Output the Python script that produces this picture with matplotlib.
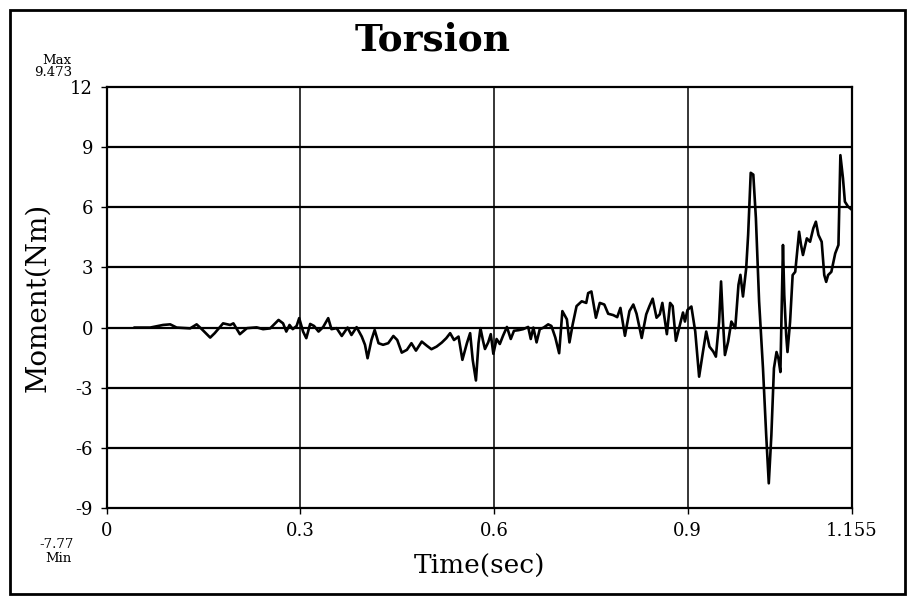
import matplotlib
matplotlib.use("Agg")
import matplotlib.pyplot as plt
from matplotlib.patches import Rectangle

# torque trace
time_s = [0.043, 0.067, 0.087, 0.098, 0.108, 0.129, 0.139, 0.147, 0.160, 0.167,
          0.180, 0.191, 0.196, 0.206, 0.217, 0.232, 0.242, 0.253, 0.266, 0.273,
          0.278, 0.283, 0.288, 0.294, 0.298, 0.304, 0.309, 0.315, 0.321, 0.328,
          0.335, 0.343, 0.348, 0.356, 0.364, 0.373, 0.379, 0.387, 0.395, 0.400,
          0.404, 0.410, 0.415, 0.421, 0.428, 0.436, 0.444, 0.450, 0.457, 0.465,
          0.472, 0.479, 0.488, 0.496, 0.503, 0.511, 0.519, 0.526, 0.532, 0.538,
          0.545, 0.551, 0.558, 0.563, 0.567, 0.572, 0.576, 0.579, 0.583, 0.586,
          0.591, 0.595, 0.599, 0.604, 0.609, 0.614, 0.620, 0.626, 0.631, 0.638,
          0.645, 0.653, 0.657, 0.661, 0.666, 0.671, 0.677, 0.684, 0.689, 0.695,
          0.701, 0.706, 0.713, 0.717, 0.722, 0.728, 0.736, 0.743, 0.746, 0.751,
          0.758, 0.764, 0.771, 0.777, 0.785, 0.791, 0.796, 0.803, 0.810, 0.816,
          0.821, 0.829, 0.836, 0.841, 0.846, 0.852, 0.857, 0.861, 0.868, 0.873,
          0.877, 0.882, 0.888, 0.893, 0.896, 0.900, 0.906, 0.912, 0.918, 0.924,
          0.929, 0.934, 0.940, 0.944, 0.949, 0.952, 0.955, 0.958, 0.963, 0.968,
          0.974, 0.979, 0.982, 0.986, 0.991, 0.994, 0.998, 1.002, 1.006, 1.011,
          1.017, 1.022, 1.026, 1.030, 1.034, 1.038, 1.041, 1.044, 1.048, 1.050,
          1.053, 1.055, 1.059, 1.063, 1.067, 1.070, 1.073, 1.076, 1.079, 1.085,
          1.090, 1.095, 1.099, 1.103, 1.108, 1.112, 1.115, 1.118, 1.123, 1.129,
          1.134, 1.137, 1.141, 1.144, 1.149, 1.155]
moment = [0.0, 0.0, 0.13, 0.16, 0.0, -0.04, 0.16, -0.08, -0.5, -0.28,
          0.21, 0.13, 0.21, -0.33, -0.03, 0.01, -0.08, -0.04, 0.38, 0.21,
          -0.2, 0.13, -0.08, 0.08, 0.47, -0.2, -0.53, 0.18, 0.08, -0.2,
          0.02, 0.47, -0.08, -0.03, -0.42, 0.0, -0.37, 0.02, -0.45, -0.86,
          -1.53, -0.62, -0.12, -0.78, -0.86, -0.78, -0.42, -0.62, -1.25, -1.11,
          -0.78, -1.15, -0.70, -0.91, -1.08, -0.95, -0.75, -0.53, -0.28, -0.62,
          -0.45, -1.61, -0.78, -0.28, -1.61, -2.64, -0.78, -0.03, -0.66, -1.07,
          -0.74, -0.33, -1.31, -0.57, -0.82, -0.41, 0.03, -0.57, -0.16, -0.13,
          -0.08, 0.03, -0.57, 0.0, -0.74, -0.08, 0.0, 0.16, 0.08, -0.49,
          -1.28, 0.82, 0.41, -0.74, 0.16, 1.07, 1.31, 1.23, 1.72, 1.80,
          0.49, 1.23, 1.15, 0.69, 0.62, 0.52, 0.98, -0.41, 0.82, 1.15,
          0.69, -0.52, 0.66, 1.07, 1.44, 0.49, 0.66, 1.23, -0.33, 1.23,
          1.07, -0.66, 0.1, 0.75, 0.3, 0.88, 1.05, -0.2, -2.45, -1.2,
          -0.2, -0.95, -1.2, -1.45, 0.3, 2.3, 0.3, -1.37, -0.7, 0.3,
          -0.03, 2.13, 2.63, 1.55, 2.97, 4.63, 7.72, 7.63, 5.47, 1.3,
          -2.03, -5.37, -7.77, -5.37, -2.03, -1.22, -1.55, -2.22, 4.12, 1.62,
          -0.38, -1.22, 0.28, 2.62, 2.78, 3.78, 4.78, 4.12, 3.62, 4.45,
          4.28, 4.95, 5.28, 4.62, 4.28, 2.62, 2.28, 2.62, 2.78, 3.7,
          4.12, 8.6, 7.45, 6.28, 6.03, 5.87]

x_ticks = [0, 0.3, 0.6, 0.9, 1.155]
x_labels = ["0", "0.3", "0.6", "0.9", "1.155"]
y_ticks = [12, 9, 6, 3, 0, -3, -6, -9]
y_labels = ["12", "9", "6", "3", "0", "-3", "-6", "-9"]

serif = "DejaVu Serif"

fig = plt.figure(figsize=(9.12, 5.96), dpi=100)
ax = fig.add_axes([0.1173, 0.1477, 0.8169, 0.7063])

ax.plot(time_s, moment, color="black", lw=1.9, solid_joinstyle="round", zorder=3)

ax.set_xlim(0, 1.155)
ax.set_ylim(-9, 12)
ax.set_xticks(x_ticks)
ax.set_xticklabels(x_labels, fontfamily=serif, fontsize=13)
ax.set_yticks(y_ticks)
ax.set_yticklabels(y_labels, fontfamily=serif, fontsize=13)
ax.tick_params(direction="out", length=4, width=1, color="black", pad=6)

for v in [9, 6, 3, 0, -3, -6]:
    ax.axhline(v, color="black", lw=1.6, zorder=1)
for t in [0.3, 0.6, 0.9]:
    ax.axvline(t, color="black", lw=1.1, zorder=1)
for s in ax.spines.values():
    s.set_linewidth(1.6)

fig.text(0.474, 1 - 40 / 596, "Torsion", ha="center", va="center",
         fontfamily=serif, fontweight="bold", fontsize=27)
ax.set_xlabel("Time(sec)", fontfamily=serif, fontsize=19, labelpad=10)
ax.set_ylabel("Moment(Nm)", fontfamily=serif, fontsize=20, labelpad=14)

small = dict(ha="center", va="center", fontfamily=serif, fontsize=9.5)
fig.text(57 / 912, 1 - 60 / 596, "Max", **small)
fig.text(53 / 912, 1 - 73 / 596, "9.473", **small)
fig.text(57 / 912, 1 - 545 / 596, "-7.77", **small)
fig.text(58 / 912, 1 - 558 / 596, "Min", **small)

fig.patches.append(Rectangle((10 / 912, 2 / 596), 895 / 912, 584 / 596,
                             transform=fig.transFigure, fill=False,
                             edgecolor="black", lw=2))

fig.savefig("out.png", dpi=100)
